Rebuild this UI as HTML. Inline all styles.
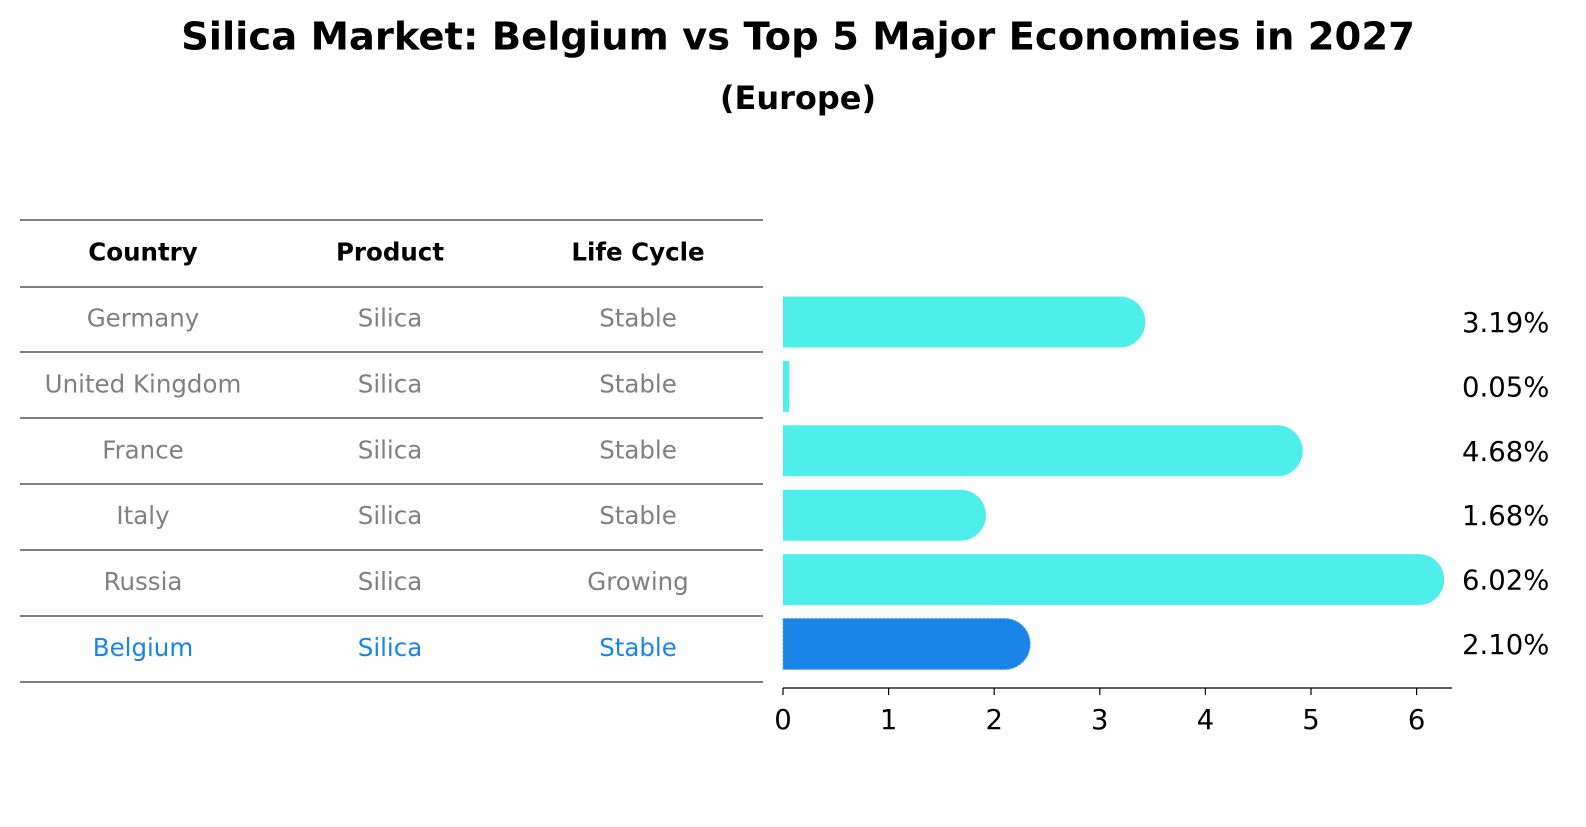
<!DOCTYPE html>
<html><head><meta charset="utf-8"><style>
body{margin:0;background:#fff;font-family:"DejaVu Sans","Liberation Sans",sans-serif;}
svg text{font-family:"DejaVu Sans","Liberation Sans",sans-serif;}
</style></head><body>
<svg id="c" width="1586" height="823" viewBox="0 0 1586 823" xmlns="http://www.w3.org/2000/svg">
<rect width="1586" height="823" fill="#fefefe"/>
<text x="798" y="37" text-anchor="middle" dominant-baseline="central" font-size="38.5" font-weight="bold">Silica Market: Belgium vs Top 5 Major Economies in 2027</text>
<text x="798" y="98" text-anchor="middle" dominant-baseline="central" font-size="32" font-weight="bold">(Europe)</text>
<g id="table"></g>
<g id="bars"></g>
</svg>
<script>
const countries=["Germany","United Kingdom","France","Italy","Russia","Belgium"];
const products=["Silica","Silica","Silica","Silica","Silica","Silica"];
const lifecycles=["Stable","Stable","Stable","Stable","Growing","Stable"];
const values=[3.19,0.05,4.68,1.68,6.02,2.10];
const valueLabels=["3.19%","0.05%","4.68%","1.68%","6.02%","2.10%"];
const ticks=[0,1,2,3,4,5,6];
const NS="http://www.w3.org/2000/svg";
function mk(t,a,p){const e=document.createElementNS(NS,t);for(const k in a)e.setAttribute(k,a[k]);p.appendChild(e);return e;}
const tb=document.getElementById('table');
const lineYs=[220,287,352,418,484,550,616,682];
lineYs.forEach(y=>{const l=mk('line',{x1:20,x2:763,y1:y,y2:y,stroke:'#000','stroke-width':1},tb);

});
const colX=[143,390,638];
["Country","Product","Life Cycle"].forEach((h,i)=>{const t=mk('text',{x:colX[i],y:252,'text-anchor':'middle','dominant-baseline':'central','font-size':24.5,'font-weight':'bold'},tb);t.textContent=h;

});
countries.forEach((c,r)=>{const y=318+r*65.9;const col=r===5?'#1a85e8':'#808080';
[c,products[r],lifecycles[r]].forEach((v,i)=>{const t=mk('text',{x:colX[i],y:y,'text-anchor':'middle','dominant-baseline':'central','font-size':24.5,fill:col},tb);t.textContent=v;

});});
const bg=document.getElementById('bars');
const x0=783,ppu=105.6;const xs=v=>x0+v*ppu;
const rowY=i=>322+i*64.4;const bh=51,rad=25.5;
values.forEach((v,i)=>{const cy=rowY(i);const col=i===5?'#1a85e8':'#4eeeea';const xe=xs(v);
let d;
if(v*ppu>rad){d=`M${x0},${cy-bh/2} H${xe} A${rad},${rad} 0 0 1 ${xe},${cy+bh/2} H${x0} Z`;}
else d=`M${x0},${cy-bh/2} H${xe+1} V${cy+bh/2} H${x0} Z`;
const p=mk('path',{d:d,fill:col},bg);


if(i===5){const o=mk('path',{d:d,fill:'none',stroke:'#5aa8f0','stroke-width':1,'stroke-dasharray':'2,2'},bg);

}
const t=mk('text',{x:1462,y:cy+1,'dominant-baseline':'central','font-size':27.5},bg);t.textContent=valueLabels[i];

});
const ax=mk('line',{x1:x0,x2:1452,y1:688,y2:688,stroke:'#000','stroke-width':1.3},bg);


ticks.forEach(v=>{const l=mk('line',{x1:xs(v),x2:xs(v),y1:688,y2:695,stroke:'#000','stroke-width':1.2},bg);


const t=mk('text',{x:xs(v),y:720,'text-anchor':'middle','dominant-baseline':'central','font-size':27.5},bg);t.textContent=v;

});
</script>
</body></html>
